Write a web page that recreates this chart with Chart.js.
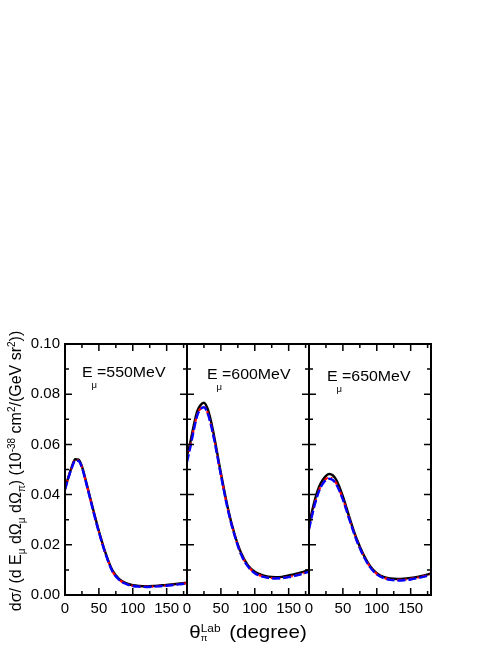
<!DOCTYPE html>
<html>
<head>
<meta charset="utf-8">
<script src="https://cdn.jsdelivr.net/npm/chart.js@4.4.1/dist/chart.umd.min.js"></script>
<style>
  html, body { margin: 0; padding: 0; background: #fff; }
  #wrap { position: relative; width: 498px; height: 645px; }
</style>
</head>
<body>
<div id="wrap"><canvas id="chart" width="498" height="645"></canvas></div>
<script>
// pion emission angle (lab), degrees
const theta = [0, 5, 10, 15, 20, 25, 30, 35, 40, 50, 60, 70, 80, 90, 100, 110, 120, 130, 140, 150, 160, 170, 180];
const energies = ["550", "600", "650"];

// solid black curves
const solid550 = [0.0425, 0.0470, 0.0510, 0.0541, 0.0539, 0.0512, 0.0463, 0.0410, 0.0357, 0.0255, 0.0166, 0.0098, 0.0063, 0.0047, 0.0039, 0.0036, 0.0035, 0.0036, 0.0038, 0.0040, 0.0043, 0.0046, 0.0049];
const solid600 = [0.0555, 0.0610, 0.0676, 0.0732, 0.0757, 0.0766, 0.0745, 0.0697, 0.0633, 0.0486, 0.0350, 0.0244, 0.0166, 0.0118, 0.0093, 0.0080, 0.0073, 0.0071, 0.0072, 0.0078, 0.0084, 0.0091, 0.0100];
const solid650 = [0.0280, 0.0340, 0.0392, 0.0432, 0.0458, 0.0475, 0.0482, 0.0477, 0.0460, 0.0393, 0.0306, 0.0226, 0.0163, 0.0116, 0.0087, 0.0072, 0.0066, 0.0064, 0.0065, 0.0068, 0.0072, 0.0078, 0.0086];

// red dash-dot curves
const dashDot550 = [0.0422, 0.0468, 0.0508, 0.0538, 0.0536, 0.0509, 0.0460, 0.0407, 0.0353, 0.0252, 0.0163, 0.0095, 0.0061, 0.0045, 0.0037, 0.0034, 0.0033, 0.0034, 0.0036, 0.0038, 0.0041, 0.0044, 0.0047];
const dashDot600 = [0.0540, 0.0598, 0.0662, 0.0718, 0.0743, 0.0750, 0.0729, 0.0683, 0.0622, 0.0479, 0.0345, 0.0240, 0.0162, 0.0115, 0.0089, 0.0076, 0.0069, 0.0067, 0.0068, 0.0072, 0.0078, 0.0085, 0.0094];
const dashDot650 = [0.0266, 0.0326, 0.0379, 0.0419, 0.0446, 0.0463, 0.0468, 0.0463, 0.0446, 0.0383, 0.0299, 0.0221, 0.0159, 0.0113, 0.0084, 0.0069, 0.0062, 0.0060, 0.0061, 0.0064, 0.0069, 0.0075, 0.0083];

// blue dashed curves
const dash550 = [0.0420, 0.0466, 0.0506, 0.0536, 0.0534, 0.0508, 0.0459, 0.0406, 0.0352, 0.0250, 0.0162, 0.0094, 0.0060, 0.0044, 0.0036, 0.0033, 0.0032, 0.0033, 0.0035, 0.0037, 0.0040, 0.0043, 0.0046];
const dash600 = [0.0530, 0.0590, 0.0656, 0.0714, 0.0740, 0.0748, 0.0727, 0.0681, 0.0620, 0.0477, 0.0343, 0.0239, 0.0160, 0.0113, 0.0087, 0.0074, 0.0068, 0.0066, 0.0067, 0.0071, 0.0077, 0.0084, 0.0093];
const dash650 = [0.0262, 0.0322, 0.0375, 0.0415, 0.0442, 0.0458, 0.0463, 0.0458, 0.0442, 0.0380, 0.0297, 0.0219, 0.0157, 0.0111, 0.0082, 0.0067, 0.0060, 0.0058, 0.0059, 0.0062, 0.0067, 0.0073, 0.0081];

const xTicks = [0, 50, 100, 150];
const xMinorTicks = [25, 75, 125, 175];
const yTicks = [0, 0.02, 0.04, 0.06, 0.08, 0.10];
const yMinorTicks = [0.01, 0.03, 0.05, 0.07, 0.09];

const FONT = "'Liberation Sans', Arial, Helvetica, sans-serif";

const solid = [solid550, solid600, solid650];
const dashDot = [dashDot550, dashDot600, dashDot650];
const dash = [dash550, dash600, dash650];

function points(vals) {
    return theta.map((t, i) => ({ x: t, y: vals[i] }));
}

const datasets = [];
energies.forEach((e, p) => {
    datasets.push({ data: points(solid[p]), xAxisID: "x" + p, borderColor: "#000", borderWidth: 2.4, order: 3 });
    datasets.push({ data: points(dashDot[p]), xAxisID: "x" + p, borderColor: "#ff0000", borderWidth: 2.2, borderDash: [5, 3, 1.5, 3], order: 2 });
    datasets.push({ data: points(dash[p]), xAxisID: "x" + p, borderColor: "#0000ff", borderWidth: 2.4, borderDash: [8, 3], order: 1 });
});

const scales = {
    y: {
        type: "linear", position: "left", min: 0, max: 0.1,
        grid: { display: false, drawTicks: false }, border: { display: false },
        ticks: { color: "#000", font: { family: FONT, size: 15 }, padding: 5, callback: v => v.toFixed(2) },
        afterBuildTicks: s => { s.ticks = yTicks.map(v => ({ value: v })); },
        afterFit: s => { s.width = 65; }
    }
};
energies.forEach((e, p) => {
    scales["x" + p] = {
        type: "linear", position: "bottom", stack: "panels", stackWeight: 1,
        min: 0, max: 180,
        grid: { display: false, drawTicks: false }, border: { display: false },
        ticks: { color: "#000", font: { family: FONT, size: 15 }, padding: 5, maxRotation: 0, autoSkip: false },
        afterBuildTicks: s => { s.ticks = xTicks.map(v => ({ value: v })); },
        afterFit: s => { s.height = 50; }
    };
});

// draw a run of text pieces (sub/superscripts) starting at x, baseline y
function drawRich(ctx, x, y, pieces, sx) {
    ctx.save();
    ctx.translate(x, y);
    ctx.scale(sx || 1, 1);
    ctx.fillStyle = "#000";
    ctx.textBaseline = "alphabetic";
    ctx.textAlign = "left";
    let cx = 0;
    pieces.forEach(pc => {
        ctx.font = pc.size + "px " + FONT;
        cx += pc.gap || 0;
        ctx.fillText(pc.t, cx, pc.dy || 0);
        if (!pc.keep) cx += ctx.measureText(pc.t).width;
    });
    ctx.restore();
}

function richWidth(ctx, pieces) {
    let w = 0;
    pieces.forEach(pc => {
        ctx.font = pc.size + "px " + FONT;
        w += pc.gap || 0;
        if (!pc.keep) w += ctx.measureText(pc.t).width;
    });
    return w;
}

const framePlugin = {
    id: "frames",
    afterDraw(chart) {
        const ctx = chart.ctx;
        const ys = chart.scales.y;
        const top = chart.chartArea.top, bottom = chart.chartArea.bottom;
        ctx.save();
        ctx.strokeStyle = "#000";
        energies.forEach((e, p) => {
            const xs = chart.scales["x" + p];
            const left = xs.left, right = xs.right;
            ctx.lineWidth = 1.5;
            ctx.beginPath();
            xTicks.concat(xMinorTicks).forEach(v => {
                const len = xTicks.includes(v) ? 7 : 4;
                const px = xs.getPixelForValue(v);
                ctx.moveTo(px, bottom); ctx.lineTo(px, bottom - len);
                ctx.moveTo(px, top); ctx.lineTo(px, top + len);
            });
            yTicks.concat(yMinorTicks).forEach(v => {
                const len = yTicks.includes(v) ? 7 : 4;
                const py = ys.getPixelForValue(v);
                ctx.moveTo(left, py); ctx.lineTo(left + len, py);
                ctx.moveTo(right, py); ctx.lineTo(right - len, py);
            });
            ctx.stroke();
            ctx.lineWidth = 2;
            ctx.strokeRect(left, top, right - left, bottom - top);

            // energy label
            const offX = [17, 20, 18][p];
            const offY = [33, 35, 36.5][p];
            drawRich(ctx, left + offX, top + offY, [
                { t: "E", size: 15 },
                { t: "\u03bc", size: 9, dy: 11, gap: -1 },
                { t: "=" + e + "MeV", size: 15 }
            ], 1.06);
        });

        // x title under the middle panel
        const mid = chart.scales.x1;
        const xt = [
            { t: "\u03b8", size: 19 },
            { t: "\u03c0", size: 9, dy: 3, keep: true },
            { t: "Lab", size: 11, dy: -6 },
            { t: "(degree)", size: 19, gap: 8 }
        ];
        const w = richWidth(ctx, xt) * 1.08;
        drawRich(ctx, (mid.left + mid.right) / 2 - w / 2, 637.5, xt, 1.08);

        // y title
        const yt = [
            { t: "d\u03c3/ (d E", size: 16 },
            { t: "\u03bc", size: 10, dy: 4 },
            { t: " d\u03a9", size: 16 },
            { t: "\u03bc", size: 10, dy: 4 },
            { t: " d\u03a9", size: 16 },
            { t: "\u03c0", size: 10, dy: 4 },
            { t: ") (10", size: 16 },
            { t: "-38", size: 10, dy: -6 },
            { t: " cm", size: 16 },
            { t: "2", size: 10, dy: -6 },
            { t: "/(GeV sr", size: 16 },
            { t: "2", size: 10, dy: -6 },
            { t: "))", size: 16 }
        ];
        const yw = richWidth(ctx, yt);
        ctx.save();
        ctx.translate(21, 471);
        ctx.rotate(-Math.PI / 2);
        drawRich(ctx, -yw / 2, 0, yt, 1);
        ctx.restore();
        ctx.restore();
    }
};

new Chart(document.getElementById("chart"), {
    type: "line",
    data: { datasets },
    options: {
        responsive: false,
        animation: false,
        devicePixelRatio: 1,
        layout: { padding: { top: 344, right: 67, bottom: 0, left: 0 } },
        elements: {
            point: { radius: 0 },
            line: { cubicInterpolationMode: "monotone", fill: false }
        },
        plugins: { legend: { display: false }, tooltip: { enabled: false } },
        scales
    },
    plugins: [framePlugin]
});
</script>
</body>
</html>
